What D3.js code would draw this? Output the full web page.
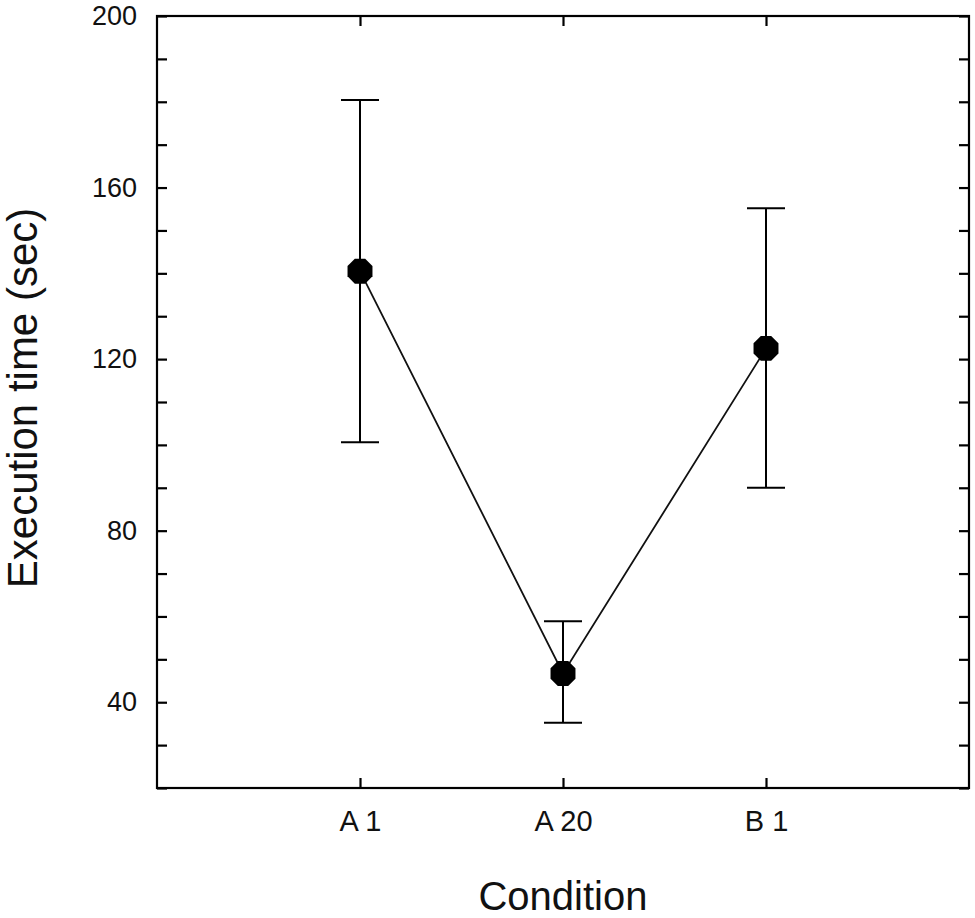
<!DOCTYPE html>
<html>
<head>
<meta charset="utf-8">
<script src="https://cdn.jsdelivr.net/npm/d3@7"></script>
<style>
  html, body { margin: 0; padding: 0; background: #fff; }
  svg { display: block; }
  text { font-family: "Liberation Sans", Arial, Helvetica, sans-serif; fill: #111; }
</style>
</head>
<body>
<svg id="chart" width="975" height="918"></svg>
<script>
// ---- data ----
const categories = ["A 1", "A 20", "B 1"];
const means      = [140.5, 46.7, 122.5];
const upper      = [180.4, 58.9, 155.2];
const lower      = [100.6, 35.2, 90.0];
const yTicks     = [20, 30, 40, 50, 60, 70, 80, 90, 100, 110, 120, 130, 140, 150, 160, 170, 180, 190, 200];
const yLabelTicks = [40, 80, 120, 160, 200];
const yDomain    = [20, 200];
const xTitle = "Condition";
const yTitle = "Execution time (sec)";

const rows = categories.map((c, i) => ({ c, m: means[i], hi: upper[i], lo: lower[i] }));

// ---- layout ----
const svg = d3.select("#chart");
const L = 157, R = 969, T = 16, B = 788;

const x = d3.scalePoint().domain(categories).range([L, R]).padding(1);
const y = d3.scaleLinear().domain(yDomain).range([B, T]);

const fmt = d => yLabelTicks.includes(d) ? String(d) : "";

// left axis with labels, ticks inward
const gL = svg.append("g").attr("transform", `translate(${L},0)`)
  .call(d3.axisLeft(y).tickValues(yTicks).tickFormat(fmt).tickSizeInner(-10).tickSizeOuter(0).tickPadding(20));
// right axis, ticks inward
const gR = svg.append("g").attr("transform", `translate(${R},0)`)
  .call(d3.axisRight(y).tickValues(yTicks).tickFormat(() => "").tickSizeInner(-10).tickSizeOuter(0));
// bottom axis with labels, ticks inward
const gB = svg.append("g").attr("transform", `translate(0,${B})`)
  .call(d3.axisBottom(x).tickSizeInner(-10).tickSizeOuter(0).tickPadding(22));
// top axis, ticks inward
const gT = svg.append("g").attr("transform", `translate(0,${T})`)
  .call(d3.axisTop(x).tickFormat(() => "").tickSizeInner(-10).tickSizeOuter(0));

[gL, gR, gB, gT].forEach(g => {
  g.select(".domain").remove();
  g.selectAll(".tick line").attr("stroke", "#000").attr("stroke-width", 2.2);
});
gL.selectAll(".tick text").attr("font-size", 27).attr("fill", "#111")
  .style("font-family", '"Liberation Sans", Arial, sans-serif');
gB.selectAll(".tick text").attr("font-size", 29).attr("fill", "#111")
  .style("font-family", '"Liberation Sans", Arial, sans-serif');

// frame
svg.append("rect")
  .attr("x", L).attr("y", T).attr("width", R - L).attr("height", B - T)
  .attr("fill", "none").attr("stroke", "#000").attr("stroke-width", 2.2);

// connecting line
svg.append("path")
  .datum(rows)
  .attr("fill", "none").attr("stroke", "#111").attr("stroke-width", 1.8)
  .attr("d", d3.line().x(d => x(d.c)).y(d => y(d.m)));

// error bars
const capW = 38;
const eb = svg.append("g").attr("stroke", "#000").attr("stroke-width", 2);
eb.selectAll("line.v").data(rows).join("line").attr("class", "v")
  .attr("x1", d => x(d.c)).attr("x2", d => x(d.c))
  .attr("y1", d => y(d.hi)).attr("y2", d => y(d.lo));
eb.selectAll("line.hi").data(rows).join("line").attr("class", "hi")
  .attr("x1", d => x(d.c) - capW / 2).attr("x2", d => x(d.c) + capW / 2)
  .attr("y1", d => y(d.hi)).attr("y2", d => y(d.hi));
eb.selectAll("line.lo").data(rows).join("line").attr("class", "lo")
  .attr("x1", d => x(d.c) - capW / 2).attr("x2", d => x(d.c) + capW / 2)
  .attr("y1", d => y(d.lo)).attr("y2", d => y(d.lo));

// octagon markers
const rOct = 13.5;
const octPts = d3.range(8).map(k => {
  const a = Math.PI / 8 + k * Math.PI / 4;
  return [rOct * Math.cos(a), rOct * Math.sin(a)];
});
svg.selectAll("path.marker").data(rows).join("path").attr("class", "marker")
  .attr("transform", d => `translate(${x(d.c)},${y(d.m)})`)
  .attr("d", "M" + octPts.map(p => p.join(",")).join("L") + "Z")
  .attr("fill", "#000");

// titles
svg.append("text")
  .attr("x", (L + R) / 2).attr("y", 910)
  .attr("text-anchor", "middle").attr("font-size", 40)
  .text(xTitle);
svg.append("text")
  .attr("transform", `translate(37,${(T + B) / 2 - 4}) rotate(-90)`)
  .attr("text-anchor", "middle").attr("font-size", 42)
  .text(yTitle);
</script>
</body>
</html>
